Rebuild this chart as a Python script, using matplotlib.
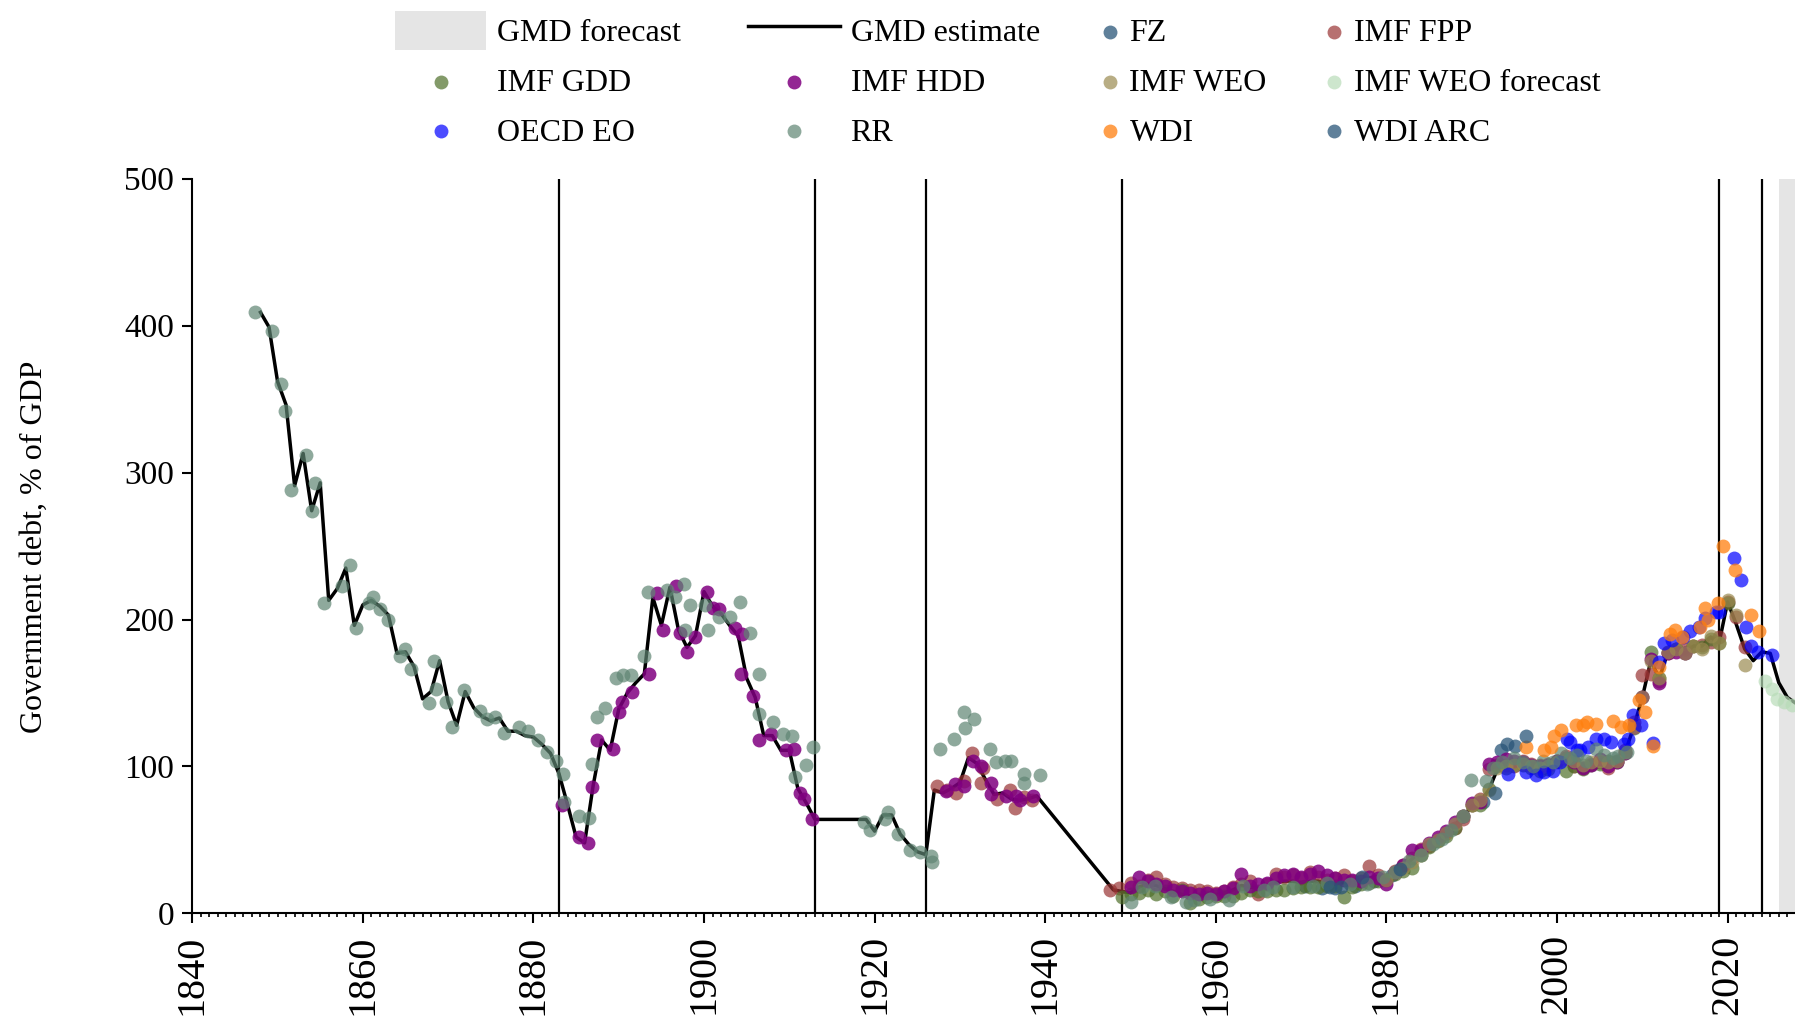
import matplotlib.pyplot as plt
from matplotlib.patches import Patch
from matplotlib.legend_handler import HandlerLine2D

# Government debt (% of GDP), GMD estimate and the underlying sources

plt.rcParams['font.family'] = ['Liberation Serif', 'DejaVu Serif']

##########################################################
###################### Input Data ########################
##########################################################

# GMD estimate (black line)
gmd_years = (list(range(1848, 1914)) + list(range(1919, 1940)) + [1948, 1949]
             + list(range(1950, 2029)))
gmd_debt = [409, 399, 362, 346, 291, 313, 274, 293, 213, 221,
            235, 196, 210, 213, 209, 203, 177, 178, 168, 146,
            151, 172, 144, 128, 151, 140, 134, 131, 133, 124,
            124, 121, 120, 115, 109, 95, 74, 52, 48, 87,
            118, 111, 139, 150, 157, 163, 215, 196, 222, 193,
            181, 189, 219, 209, 204, 196, 189, 160, 147, 121,
            121, 111, 111, 85, 75, 64,
            64, 56, 67, 67, 54, 47, 42, 40, 84, 82,
            85, 89, 106, 102, 91, 81, 82, 78, 77, 78, 80,
            16, 15,
            14, 18, 20, 19, 17, 15, 13, 12, 12, 13,
            13, 14, 16, 19, 18, 17, 19, 21, 22, 22,
            21, 22, 22, 20, 20, 21, 21, 22, 24, 25,
            25, 28, 32, 37, 42, 47, 50, 55, 60, 66,
            73, 76, 84, 98, 100, 101, 102, 100, 99, 100,
            103, 105, 101, 100, 103, 104, 103, 104, 110, 127,
            147, 172, 160, 178, 180, 177, 182, 182, 188, 184,
            212, 197, 180, 172, 178, 177, 157, 147, 143]

# RR
rr_years = [1847.4, 1849.4, 1850.4, 1850.9, 1851.6, 1853.3, 1854.0, 1854.4, 1855.5, 1857.6,
            1858.5, 1859.2, 1860.7, 1861.2, 1862.0, 1862.9, 1864.4, 1864.9, 1865.6, 1867.7,
            1868.4, 1868.6, 1869.7, 1870.5, 1871.9, 1873.7, 1874.6, 1875.5, 1876.6, 1878.3,
            1879.4, 1880.5, 1881.6, 1882.6, 1883.5, 1883.6, 1885.4, 1886.5, 1886.9, 1887.4,
            1888.4, 1889.7, 1890.5, 1891.4, 1893.0, 1893.4, 1895.6, 1896.6, 1897.6, 1897.8,
            1898.3, 1900.1, 1900.5, 1901.8, 1903.1, 1904.2, 1905.4, 1906.4, 1906.4, 1908.1,
            1909.3, 1910.3, 1910.7, 1911.9, 1912.8,
            1918.8, 1919.4, 1921.2, 1921.6, 1922.7, 1924.1, 1925.3, 1926.6, 1926.7,
            1927.7, 1929.3, 1930.5, 1930.6, 1931.7, 1933.5, 1934.2, 1935.3, 1936.0, 1937.5,
            1937.5, 1939.4,
            1950.0, 1951.3, 1952.9, 1954.8, 1956.5, 1957.5, 1959.3, 1961.5, 1963.2, 1965.6,
            1966.7, 1969.1, 1971.4, 1973.0, 1975.7, 1977.7, 1979.6, 1981.0, 1982.7, 1984.1,
            1985.5, 1986.5, 1987.6, 1989.0, 1989.9, 1991.7, 1992.5, 1993.5, 1994.9, 1996.0,
            1997.2, 1998.4, 1999.5, 2000.5, 2001.5, 2002.3, 2003.4, 2004.6, 2005.5, 2006.6,
            2007.2, 2008.2]
rr_debt = [409, 396, 360, 342, 288, 312, 274, 293, 211, 223,
           237, 194, 211, 215, 207, 200, 175, 180, 166, 143,
           172, 153, 144, 127, 152, 138, 132, 134, 123, 127,
           124, 118, 110, 104, 95, 76, 66, 65, 102, 134,
           140, 160, 162, 162, 175, 219, 220, 215, 224, 193,
           210, 210, 193, 202, 202, 212, 191, 163, 136, 130,
           122, 121, 93, 101, 113,
           62, 57, 64, 69, 54, 43, 42, 39, 35,
           112, 119, 137, 126, 132, 112, 103, 104, 104, 95,
           89, 94,
           8, 18, 19, 11, 8, 9, 10, 9, 19, 16,
           18, 18, 19, 21, 20, 20, 25, 28, 36, 40,
           47, 51, 57, 66, 91, 90, 99, 103, 106, 103,
           100, 104, 103, 109, 106, 108, 104, 112, 108, 106,
           107, 110]

# IMF HDD
hdd_years = [1883.3, 1885.4, 1886.4, 1886.9, 1887.5, 1889.3, 1890.0, 1890.4, 1891.6, 1893.6,
             1894.5, 1895.2, 1896.7, 1897.2, 1898.0, 1898.9, 1900.3, 1901.0, 1901.7, 1903.6,
             1904.3, 1904.5, 1905.7, 1906.4, 1907.8, 1909.6, 1910.6, 1911.2, 1911.7, 1912.6,
             1928.4, 1929.4, 1930.5, 1931.5, 1932.5, 1933.6, 1933.6, 1935.4, 1936.6, 1937.1,
             1938.6] + list(range(1950, 2016))
hdd_debt = [74, 52, 48, 86, 118, 112, 137, 144, 151, 163,
            218, 193, 223, 191, 178, 188, 219, 208, 207, 194,
            163, 190, 148, 118, 122, 111, 112, 82, 78, 64,
            83, 88, 87, 104, 100, 89, 81, 80, 80, 77,
            80,
            18, 25, 22, 20, 19, 16, 15, 14, 13, 14,
            13, 15, 17, 27, 19, 20, 21, 24, 26, 27,
            25, 27, 29, 26, 24, 23, 23, 22, 25, 24,
            20, 28, 33, 43, 43, 48, 52, 56, 62, 66,
            75, 76, 102, 103, 105, 104, 103, 101, 100, 101,
            104, 106, 103, 99, 101, 105, 100, 103, 109, 127,
            147, 173, 157, 177, 178, 177]

# IMF FPP
fpp_years = [1927.3, 1928.5, 1929.5, 1930.5, 1931.4, 1932.5, 1932.7, 1934.4, 1935.9, 1936.4,
             1937.5, 1938.5, 1947.6, 1948.6] + list(range(1950, 2023))
fpp_debt = [87, 84, 82, 90, 109, 89, 99, 78, 84, 72,
            79, 77, 16, 17,
            21, 19, 23, 25, 20, 18, 17, 16, 16, 15,
            14, 15, 18, 20, 22, 13, 20, 27, 25, 26,
            24, 28, 25, 23, 24, 26, 22, 24, 32, 26,
            23, 29, 33, 38, 44, 46, 50, 55, 58, 64,
            74, 78, 98, 101, 101, 100, 104, 102, 101, 102,
            104, 107, 100, 99, 102, 103, 99, 104, 111, 130,
            162, 163, 158, 177, 180, 180, 182, 183, 185, 188,
            212, 202, 181]

# IMF GDD
gdd_years = list(range(1949, 2021))
gdd_debt = [11, 13, 14, 16, 13, 15, 12, 16, 7, 10,
            11, 12, 12, 12, 14, 16, 15, 15, 16, 16,
            17, 18, 18, 18, 19, 19, 11, 18, 20, 21,
            22, 23, 27, 29, 31, 40, 45, 49, 53, 58,
            66, 74, 74, 85, 100, 99, 101, 101, 99, 97,
            98, 104, 97, 100, 98, 101, 102, 104, 103, 109,
            126, 147, 178, 160, 178, 180, 177, 182, 181, 187,
            184, 211]

# IMF WEO
weo_years = list(range(1980, 2023))
weo_debt = [23, 28, 31, 35, 40, 47, 50, 55, 61, 66,
            74, 77, 84, 99, 100, 101, 102, 100, 99, 100,
            103, 106, 104, 101, 103, 104, 103, 104, 110, 127,
            147, 172, 160, 178, 180, 177, 182, 180, 189, 184,
            213, 203, 169]

# IMF WEO forecast
weof_years = [2024.4, 2025.2, 2025.8, 2026.6, 2027.6]
weof_debt = [158, 153, 146, 144, 142]

# OECD EO
oecd_years = [1994.3, 1996.4, 1997.5, 1998.5, 1999.5, 2000.4, 2001.2, 2001.5, 2002.4, 2002.7,
              2003.6, 2004.6, 2005.5, 2006.3, 2007.9, 2008.3, 2008.9, 2009.8, 2011.3, 2011.9,
              2012.6, 2013.5, 2014.8, 2015.6, 2016.7, 2017.3, 2018.6, 2019.0, 2020.7, 2021.6,
              2022.2, 2022.7, 2023.6, 2025.2]
oecd_debt = [95, 96, 94, 96, 97, 103, 119, 117, 111, 111,
             113, 119, 119, 117, 115, 119, 135, 128, 116, 171,
             184, 186, 188, 192, 195, 201, 205, 205, 242, 227,
             195, 182, 178, 176]

# WDI
wdi_years = [1996.4, 1998.5, 1999.3, 1999.7, 2000.5, 2002.2, 2003.0, 2003.5, 2004.6, 2006.6,
             2007.5, 2008.4, 2009.6, 2010.3, 2011.2, 2012.0, 2013.2, 2013.8, 2014.6, 2016.8,
             2017.4, 2017.7, 2018.9, 2019.5, 2020.9, 2022.7, 2023.7]
wdi_debt = [113, 111, 113, 121, 125, 128, 128, 130, 129, 131,
            127, 128, 145, 137, 114, 168, 190, 193, 188, 195,
            208, 200, 211, 250, 234, 203, 192]

# FZ
fz_years = [1970.4, 1972.4, 1974.0, 1976.3, 1978.5, 1980.6, 1991.3, 1993.4, 1995.1]
fz_debt = [19, 17, 17, 19, 22, 26, 76, 111, 114]

# WDI ARC
arc_years = [1973.4, 1974.7, 1977.1, 1981.6, 1992.7, 1994.1, 1996.4]
arc_debt = [18, 18, 25, 30, 82, 115, 121]

# years where the underlying source changes, and start of forecast
source_breaks = [1883, 1913, 1926, 1949, 2019, 2024]
forecast_start = 2026

##########################################################
####################### Plotting #########################
##########################################################

fig = plt.figure(figsize=(17.95, 10.17), dpi=100)
ax = fig.add_axes([0.1071, 0.1018, 0.8929, 0.7226])

ax.axvspan(forecast_start, 2040, color='#e5e5e5', lw=0, zorder=0)
for yr in source_breaks:
    ax.axvline(yr, color='black', lw=1.6, zorder=1)

ax.plot(gmd_years, gmd_debt, color='black', lw=2.5, zorder=2)

# name: (years, values, colour, alpha)
series = {
    'FZ': (fz_years, fz_debt, '#2a5578', 0.75),
    'IMF FPP': (fpp_years, fpp_debt, '#993333', 0.7),
    'IMF GDD': (gdd_years, gdd_debt, '#4f6f2a', 0.7),
    'IMF HDD': (hdd_years, hdd_debt, '#800080', 0.85),
    'IMF WEO': (weo_years, weo_debt, '#9a8a50', 0.7),
    'IMF WEO forecast': (weof_years, weof_debt, '#b8dcb8', 0.7),
    'OECD EO': (oecd_years, oecd_debt, '#0000ff', 0.7),
    'RR': (rr_years, rr_debt, '#5f8573', 0.7),
    'WDI': (wdi_years, wdi_debt, '#ff7f0e', 0.75),
    'WDI ARC': (arc_years, arc_debt, '#2a5578', 0.75),
}
handles = {}
for name, (yrs, vals, col, a) in series.items():
    handles[name] = ax.scatter(yrs, vals, s=100, color=col, alpha=a, lw=0, zorder=3)

handles['GMD forecast'] = Patch(facecolor='#e5e5e5', edgecolor='none')
handles['GMD estimate'] = plt.Line2D([], [], color='black', lw=2.5)

# axes
ax.set_xlim(1840, 2027.9)
ax.set_ylim(0, 500)
ax.set_xticks(range(1840, 2021, 20))
ax.set_xticks(range(1840, 2028), minor=True)
ax.set_yticks(range(0, 501, 100))
ax.spines['top'].set_visible(False)
ax.spines['right'].set_visible(False)
ax.spines['left'].set_linewidth(1.5)
ax.spines['bottom'].set_linewidth(1.5)
ax.tick_params(axis='x', which='major', labelsize=29, labelrotation=90, length=7, width=1.5, pad=8)
ax.tick_params(axis='x', which='minor', length=3, width=1.2)
ax.tick_params(axis='y', which='major', labelsize=24, length=7, width=1.5, pad=6)

fig.text(34 / 1795, 0.462, 'Government debt, % of GDP', rotation=90,
         ha='center', va='center', fontsize=23)

# legend drawn as two blocks (the first two columns have wide handles)
left_names = ['GMD forecast', 'IMF GDD', 'OECD EO', 'GMD estimate', 'IMF HDD', 'RR']
right_names = ['FZ', 'IMF WEO', 'WDI', 'IMF FPP', 'IMF WEO forecast', 'WDI ARC']
common = dict(ncol=2, loc='upper left', frameon=False, fontsize=23, handleheight=1.5,
              labelspacing=0.34, borderpad=0, borderaxespad=0, scatteryoffsets=[0.24])
fig.legend([handles[n] for n in left_names], left_names, bbox_to_anchor=(395 / 1795, 1 - 11 / 1017),
           handlelength=2.86, handletextpad=0.34, columnspacing=2.1,
           handler_map={handles['GMD estimate']: HandlerLine2D(ypad=0.17)}, **common)
fig.legend([handles[n] for n in right_names], right_names, bbox_to_anchor=(1100 / 1795, 1 - 11 / 1017),
           handlelength=0.62, handletextpad=0.3, columnspacing=1.8, **common)

fig.savefig('out.png', dpi=100)
